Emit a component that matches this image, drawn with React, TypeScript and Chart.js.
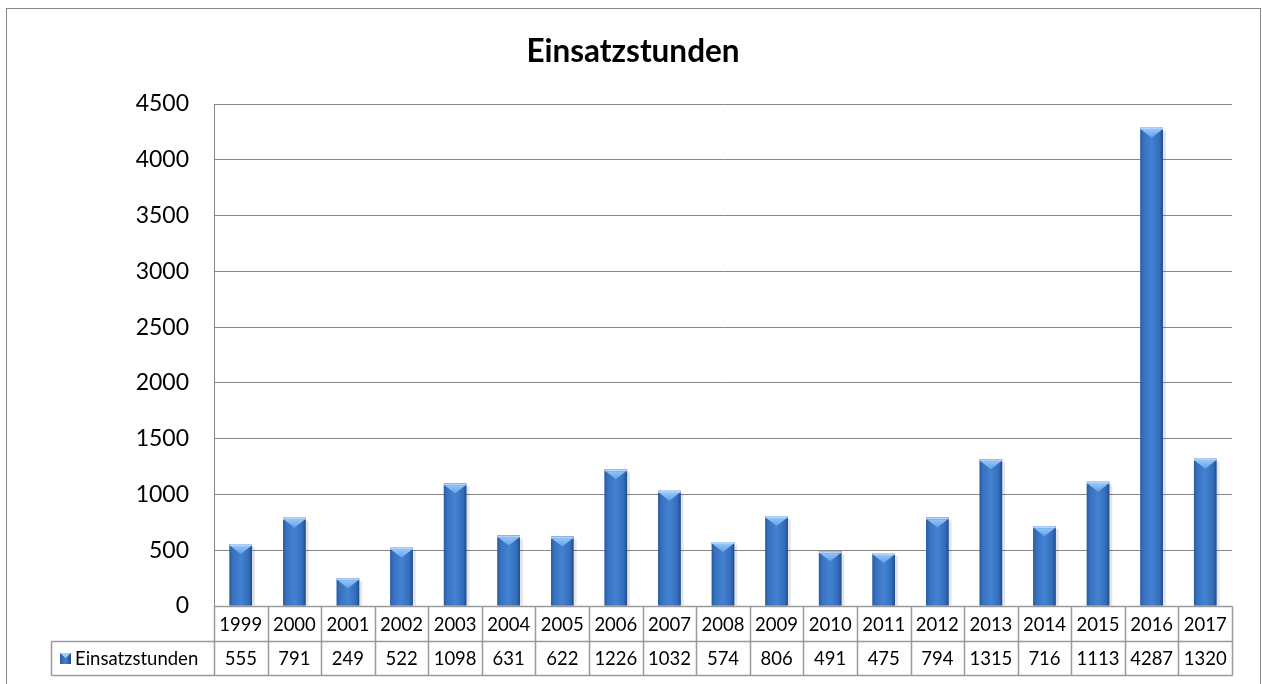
import React, { useEffect, useRef } from "react";
import { Chart, registerables } from "chart.js";

Chart.register(...registerables);

const TITLE = "Einsatzstunden";
const SERIES_NAME = "Einsatzstunden";
const years = ["1999","2000","2001","2002","2003","2004","2005","2006","2007","2008","2009","2010","2011","2012","2013","2014","2015","2016","2017"];
const hours = [555, 791, 249, 522, 1098, 631, 622, 1226, 1032, 574, 806, 491, 475, 794, 1315, 716, 1113, 4287, 1320];
const yTicks = [0, 500, 1000, 1500, 2000, 2500, 3000, 3500, 4000, 4500];

const FONT = "Lato, 'Open Sans', sans-serif";
const GRID = "#878787";
const TABLE_LINE = "#9a9a9a";

const barStylePlugin = {
  id: "barStyle",
  afterDatasetsDraw(chart: any) {
    const ctx = chart.ctx;
    const meta = chart.getDatasetMeta(0);
    meta.data.forEach((el: any) => {
      const { x, y, base, width } = el.getProps(["x", "y", "base", "width"], true);
      const l = x - width / 2;
      const r = x + width / 2;
      ctx.save();
      // shadow
      ctx.fillStyle = "rgba(0,0,0,0.10)";
      ctx.fillRect(r, y + 3, 3, base - y - 3);
      // body gradient
      const g = ctx.createLinearGradient(l, 0, r, 0);
      g.addColorStop(0, "#2a5aa0");
      g.addColorStop(0.15, "#3872c0");
      g.addColorStop(0.5, "#4382d2");
      g.addColorStop(0.85, "#336dba");
      g.addColorStop(1, "#234b88");
      ctx.fillStyle = g;
      ctx.fillRect(l, y, width, base - y);
      // top cap
      const capH = Math.min(10, (base - y) / 2);
      ctx.fillStyle = "#b4d5fa";
      ctx.fillRect(l, y, width, 2);
      const cg = ctx.createLinearGradient(0, y, 0, y + capH);
      cg.addColorStop(0, "#a3cdfb");
      cg.addColorStop(1, "#62a0ea");
      ctx.fillStyle = cg;
      ctx.beginPath();
      ctx.moveTo(l + 1, y + 2);
      ctx.lineTo(r - 1, y + 2);
      ctx.lineTo(x, y + capH);
      ctx.closePath();
      ctx.fill();
      ctx.restore();
    });
  },
};

const frameTablePlugin = {
  id: "frameTable",
  afterDraw(chart: any) {
    const ctx = chart.ctx;
    const xs = chart.scales.x;
    const area = chart.chartArea;
    ctx.save();
    // outer frame
    ctx.strokeStyle = GRID;
    ctx.lineWidth = 1;
    ctx.strokeRect(6.5, 8.5, 1254, 700);
    // title
    ctx.fillStyle = "#000";
    ctx.font = `bold 31.5px ${FONT}`;
    ctx.textAlign = "center";
    ctx.textBaseline = "alphabetic";
    ctx.fillText(TITLE, 633, 62);

    // data table
    const y0 = Math.round(area.bottom) + 0.5;
    const y1 = 641.5;
    const y2 = 675.5;
    const legendLeft = 51.5;
    const n = years.length;
    const half = (xs.getPixelForValue(1) - xs.getPixelForValue(0)) / 2;
    const lefts = years.map((_, i) => Math.round(xs.getPixelForValue(i) - half) + 0.5);
    const right = Math.round(xs.getPixelForValue(n - 1) + half) + 0.5;
    ctx.strokeStyle = TABLE_LINE;
    ctx.lineWidth = 1.5;
    ctx.beginPath();
    ctx.moveTo(lefts[0], y0);
    ctx.lineTo(right, y0);
    ctx.moveTo(legendLeft, y1);
    ctx.lineTo(right, y1);
    ctx.moveTo(legendLeft, y2);
    ctx.lineTo(right, y2);
    ctx.moveTo(legendLeft, y1);
    ctx.lineTo(legendLeft, y2);
    lefts.forEach((lx) => {
      ctx.moveTo(lx, y0);
      ctx.lineTo(lx, y2);
    });
    ctx.moveTo(right, y0);
    ctx.lineTo(right, y2);
    ctx.stroke();

    ctx.fillStyle = "#000";
    ctx.font = `18.5px ${FONT}`;
    ctx.textAlign = "center";
    ctx.textBaseline = "middle";
    years.forEach((yr, i) => {
      const cx = xs.getPixelForValue(i);
      ctx.fillText(yr, cx, (y0 + y1) / 2 + 1);
      ctx.fillText(String(hours[i]), cx, (y1 + y2) / 2 + 1);
    });
    // legend cell
    const mg = ctx.createLinearGradient(60, 0, 71, 0);
    mg.addColorStop(0, "#2a5aa0");
    mg.addColorStop(0.5, "#4382d2");
    mg.addColorStop(1, "#234b88");
    ctx.fillStyle = mg;
    ctx.fillRect(60, 653, 11, 11);
    ctx.fillStyle = "#a3cdfb";
    ctx.beginPath();
    ctx.moveTo(60, 653);
    ctx.lineTo(71, 653);
    ctx.lineTo(65.5, 658);
    ctx.closePath();
    ctx.fill();
    ctx.fillStyle = "#000";
    ctx.textAlign = "left";
    ctx.fillText(SERIES_NAME, 75, (y1 + y2) / 2 + 1);
    ctx.restore();
  },
};

export default function App() {
  const ref = useRef<HTMLCanvasElement | null>(null);
  useEffect(() => {
    document.body.style.margin = "0";
    if (!ref.current) return;
    const chart = new Chart(ref.current, {
      type: "bar",
      data: {
        labels: years,
        datasets: [
          {
            label: SERIES_NAME,
            data: hours,
            backgroundColor: "#3a76c4",
            borderWidth: 0,
            categoryPercentage: 1,
            barPercentage: 0.42,
          },
        ],
      },
      options: {
        animation: false,
        responsive: false,
        devicePixelRatio: 1,
        layout: { padding: { left: 0, top: 104, right: 30, bottom: 78 } },
        plugins: {
          legend: { display: false },
          title: { display: false },
          tooltip: { enabled: false },
        },
        scales: {
          x: {
            display: false,
            grid: { display: false },
          },
          y: {
            min: 0,
            max: 4500,
            afterBuildTicks: (scale: any) => {
              scale.ticks = yTicks.map((v) => ({ value: v }));
            },
            afterFit: (scale: any) => {
              scale.width = 214;
            },
            ticks: {
              color: "#000",
              font: { family: FONT, size: 23 },
              padding: 25,
              callback: (v: any) => String(v),
            },
            grid: {
              color: GRID,
              lineWidth: 1,
              drawTicks: false,
            },
            border: { color: GRID, width: 1 },
          },
        },
      },
      plugins: [barStylePlugin, frameTablePlugin],
    });
    return () => chart.destroy();
  }, []);
  return (
    <div style={{ width: 1262, height: 684, position: "relative" }}>
      <canvas ref={ref} width={1262} height={684} style={{ display: "block", width: 1262, height: 684 }} />
    </div>
  );
}
